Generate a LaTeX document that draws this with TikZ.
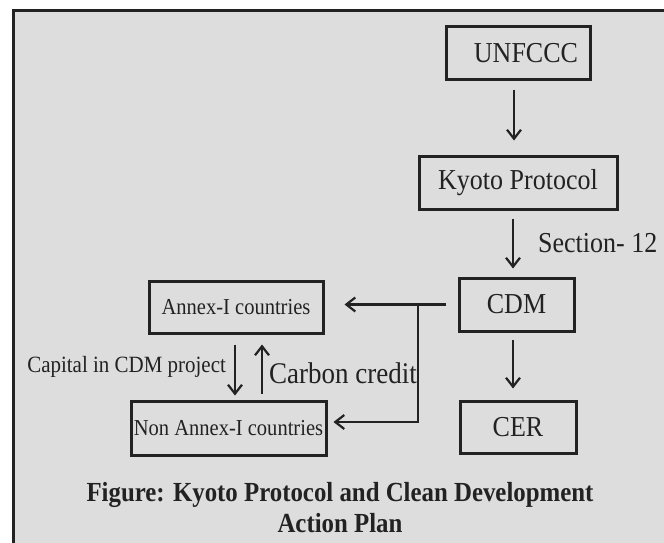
\documentclass[tikz,border=0pt]{standalone}
\usepackage{fontspec}
\setmainfont{Liberation Serif}
\newfontfamily\tallserif{Liberation Serif}[FakeStretch=0.9]
\usetikzlibrary{arrows.meta}
\definecolor{ink}{HTML}{222222}
\definecolor{paper}{HTML}{DDDDDD}
\newcommand{\tallsize}[1]{\tallserif\fontsize{#1}{1.15\dimexpr#1pt\relax}\selectfont}
\begin{document}
\begin{tikzpicture}[
    x=1pt, y=-1pt,
    box/.style={
        draw=ink, line width=3pt, inner sep=0pt,
        text=ink, font=\tallsize{28.9}
    },
    smallbox/.style={box, font=\tallsize{22.8}},
    arrow/.style={-{Straight Barb[length=9pt,width=14pt,line width=2.2pt]}, line width=2.2pt, ink},
    note/.style={text=ink, inner sep=0pt}
]
  \useasboundingbox (0,0) rectangle (664,543);
  % Frame with grey paper
  \draw[ink, line width=3pt, fill=paper] (13,11) rectangle (680,560);

  % Main chain on the right
  \node[box, minimum width=144pt, minimum height=53pt] (unfccc) at (518,53.5) {\hspace*{16pt}UNFCCC};
  \node[box, minimum width=198pt, minimum height=53pt] (kyoto)  at (518,182.5) {Kyoto Protocol};
  \node[box, minimum width=115pt, minimum height=53pt] (cdm)    at (516.5,304.5) {CDM};
  \node[box, minimum width=116pt, minimum height=52pt] (cer)    at (518,427) {CER};

  % Country groups on the left
  \node[smallbox, minimum width=174pt, minimum height=52pt] (annex)    at (236,307) {Annex-I countries};
  \node[smallbox, minimum width=195pt, minimum height=54pt] (nonannex) at (228.5,428) {Non Annex-I countries};

  % Vertical arrows
  \draw[arrow, shorten <=8pt, shorten >=14pt] ([xshift=-4pt]unfccc.south) -- ([xshift=-4pt]unfccc.south |- kyoto.north);
  \draw[arrow, shorten <=8pt, shorten >=8pt] ([xshift=-5pt]kyoto.south) -- ([xshift=-5pt]kyoto.south |- cdm.north)
    node[midway, note, anchor=west, xshift=24pt, font=\tallsize{28.9}] (section) {Section- 12};
  \draw[arrow, shorten <=7pt, shorten >=11pt] ([xshift=-3.5pt]cdm.south) -- ([xshift=-3.5pt]cdm.south |- cer.north);

  % Flows between the country groups
  \draw[arrow, shorten <=10pt, shorten >=4pt] ([xshift=-1pt]annex.south) -- ([xshift=-1pt]annex.south |- nonannex.north)
    node[midway, note, anchor=east, xshift=-8pt, font=\tallsize{23.3}] (capital) {Capital in CDM project};
  \draw[arrow, shorten <=6pt, shorten >=10pt] ([xshift=26pt]annex.south |- nonannex.north) -- ([xshift=26pt]annex.south)
    node[midway, note, anchor=west, xshift=6pt, yshift=-6pt, font=\tallsize{30}] (credit) {Carbon credit};

  % CDM branches to both groups
  \coordinate (branch) at (418,304.5);
  \draw[arrow, shorten <=12pt, shorten >=20pt] (cdm.west) -- (cdm.west -| annex.east);
  \draw[arrow, shorten >=6pt] (branch) |- ([yshift=6pt]nonannex.east);

  % Caption
  \node[note, font=\bfseries\tallsize{27.6}, align=center] (caption) at (340,507.5)
    {Figure: Kyoto Protocol and Clean Development\\Action Plan};
\end{tikzpicture}
\end{document}
